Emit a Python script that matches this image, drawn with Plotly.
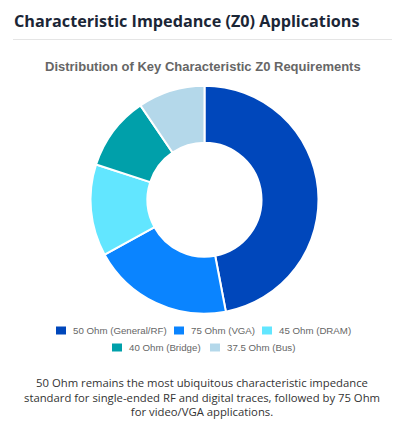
import plotly.graph_objects as go

# the page body keeps its default 8px margin, so the figure sits at (8, 8)
OFF = 8
W, H = 403 - OFF, 433 - OFF

labels = ["50 Ohm (General/RF)", "75 Ohm (VGA)", "45 Ohm (DRAM)", "40 Ohm (Bridge)", "37.5 Ohm (Bus)"]
shares = [47, 20, 13, 10.5, 9.5]
colors = ["#0047bb", "#0a84ff", "#62e6ff", "#00a0aa", "#b4d8ea"]

page_title = "Characteristic Impedance (Z0) Applications"
chart_title = "Distribution of Key Characteristic Z0 Requirements"
caption = ("50 Ohm remains the most ubiquitous characteristic impedance<br>"
           "standard for single-ended RF and digital traces, followed by 75 Ohm<br>"
           "for video/VGA applications.")

# legend layout: two centred rows, like the original
legend_text_x = [72, 190, 278, 128, 226]
legend_row_y = [330.5, 330.5, 330.5, 347.5, 347.5]


def py(px):
    # page pixel row -> paper y (figure margins are zero)
    return 1 - (px - OFF) / H


def px_x(px):
    return (px - OFF) / W


fig = go.Figure()

cx, cy, r = 204.5, 199.7, 114
fig.add_trace(go.Pie(
    labels=labels,
    values=shares,
    hole=0.5,
    sort=False,
    direction="clockwise",
    rotation=0,
    marker=dict(colors=colors, line=dict(color="white", width=2)),
    textinfo="none",
    hoverinfo="label+percent",
    showlegend=False,
    domain=dict(x=[px_x(cx - r), px_x(cx + r)], y=[py(cy + r), py(cy - r)]),
))

shapes = [dict(type="line", xref="paper", yref="paper",
               x0=px_x(13), x1=px_x(392), y0=py(39.5), y1=py(39.5),
               line=dict(color="#e5e5e5", width=1))]
annotations = [
    dict(text=f"<b>{page_title}</b>", xref="paper", yref="paper",
         x=px_x(12), y=py(21.5), xanchor="left", yanchor="middle", showarrow=False,
         font=dict(family="Open Sans, Noto Sans, sans-serif", size=16.2, color="#1b2636")),
    dict(text=f"<b>{chart_title}</b>", xref="paper", yref="paper",
         x=px_x(203), y=py(67), xanchor="center", yanchor="middle", showarrow=False,
         font=dict(family="Liberation Sans, Arial, sans-serif", size=13, color="#666")),
    dict(text=caption, xref="paper", yref="paper",
         x=px_x(202), y=py(397), xanchor="center", yanchor="middle", showarrow=False,
         align="center",
         font=dict(family="Open Sans, Noto Sans, sans-serif", size=11.3, color="#333")),
]

# legend swatches + labels
for lab, col, tx, ty in zip(labels, colors, legend_text_x, legend_row_y):
    shapes.append(dict(type="rect", xref="paper", yref="paper",
                       x0=px_x(tx - 16), x1=px_x(tx - 6), y0=py(ty + 4), y1=py(ty - 4),
                       fillcolor=col, line=dict(width=0)))
    annotations.append(dict(text=lab, xref="paper", yref="paper",
                            x=px_x(tx - 1), y=py(ty), xanchor="left", yanchor="middle",
                            showarrow=False,
                            font=dict(family="Liberation Sans, Arial, sans-serif",
                                      size=9.7, color="#666")))

fig.update_layout(
    width=W, height=H,
    margin=dict(l=0, r=0, t=0, b=0),
    paper_bgcolor="white",
    showlegend=False,
    shapes=shapes,
    annotations=annotations,
)

fig.write_html("out.html")
